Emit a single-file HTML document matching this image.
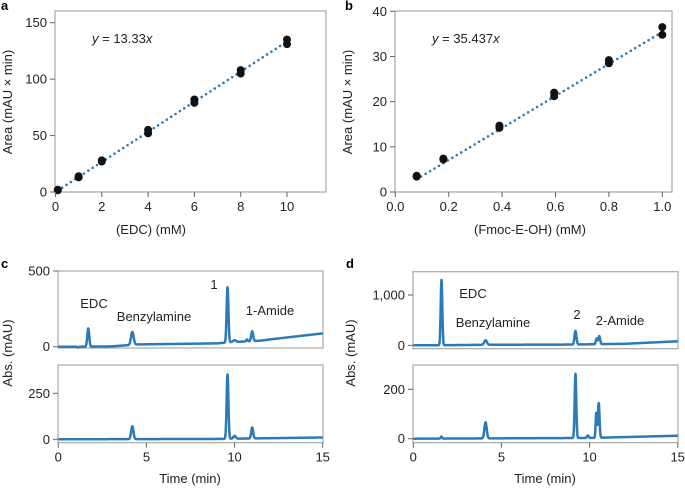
<!DOCTYPE html>
<html><head><meta charset="utf-8"><style>
html,body{margin:0;padding:0;background:#fff}
svg{display:block;font-family:"Liberation Sans",Arial,sans-serif}
</style></head><body>
<svg id="fig" width="685" height="488" viewBox="0 0 685 488"></svg>
<script>
// ---- data ----
const aX = [0.1,0.1,1,1,2,2,4,4,6,6,8,8,10,10];
const aY = [2,1.5,14,13,28,27,55,52,82,79,108,105,135,131];
const aSlope = 13.33;
const aXTicks = [0,2,4,6,8,10];
const aYTicks = [0,50,100,150];
const bX = [0.08,0.08,0.18,0.18,0.39,0.39,0.595,0.595,0.8,0.8,1.0,1.0];
const bY = [3.6,3.4,7.4,7.2,14.7,14.2,22,21.2,29.2,28.5,36.5,34.8];
const bSlope = 35.437;
const bXTicks = [0,0.2,0.4,0.6,0.8,1.0];
const bYTicks = [0,10,20,30,40];
const timeTicks = [0,5,10,15];
// chromatogram peaks: [time, height, width]
const c1Peaks = [[1.7,120,0.055],[4.2,85,0.075],[9.6,365,0.05],[10.0,12,0.08],[10.7,12,0.04],[11.0,65,0.055]];
const c1Base = [[0,0],[1,0],[1.1,-5],[1.2,0],[3,2],[4.5,15],[9,22],[9.8,30],[11.5,40],[12,48],[15,88]];
const c2Peaks = [[4.2,70,0.065],[9.6,350,0.05],[10.0,15,0.07],[11.0,60,0.055]];
const c2Base = [[0,0],[9,2],[15,10]];
const d1Peaks = [[1.6,1300,0.045],[4.1,90,0.075],[9.2,270,0.055],[10.4,110,0.045],[10.55,160,0.05]];
const d1Base = [[0,0],[1.2,0],[4,10],[9,15],[12,30],[15,80]];
const d2Peaks = [[1.6,8,0.04],[4.1,65,0.065],[9.2,260,0.045],[9.9,10,0.05],[10.38,100,0.035],[10.52,140,0.045]];
const d2Base = [[0,0],[10,3],[15,12]];

const NS="http://www.w3.org/2000/svg";
const svg=document.getElementById('fig');
function el(tag,attrs,parent,txt){const e=document.createElementNS(NS,tag);for(const k in attrs)e.setAttribute(k,attrs[k]);if(txt!==undefined)e.textContent=txt;(parent||svg).appendChild(e);return e;}
function lin(d0,d1,r0,r1){return v=>r0+(v-d0)*(r1-r0)/(d1-d0);}
const GRAY="#a8a8a8", BLUE="#2b7bba", TXT="#222", FS=13;

function frame(x0,y0,x1,y1,name){
  const r=el('rect',{x:x0,y:y0,width:x1-x0,height:y1-y0,fill:'none',stroke:GRAY,'stroke-width':1.2});
  
  
}
function yTicks(ticks,sy,x0,fmt,name){
  const g=el('g',{});
  
  
  ticks.forEach(t=>{const y=sy(t);
    el('line',{x1:x0-5,x2:x0,y1:y,y2:y,stroke:'#666','stroke-width':1},g);
    el('text',{x:x0-8,y:y+4.5,'text-anchor':'end','font-size':FS,fill:TXT},g,fmt(t));});
}
function xTicks(ticks,sx,y0,fmt,name){
  const g=el('g',{});
  
  
  ticks.forEach(t=>{const x=sx(t);
    el('line',{x1:x,x2:x,y1:y0,y2:y0+5,stroke:'#666','stroke-width':1},g);
    el('text',{x:x,y:y0+19,'text-anchor':'middle','font-size':FS,fill:TXT},g,fmt(t));});
}
function label(x,y,txt,name,opts){
  const t=el('text',Object.assign({x:x,y:y,'font-size':FS,fill:TXT,'text-anchor':'middle'},opts||{}),svg,txt);
  
  
  return t;
}
function panelLetter(x,y,t,name){label(x,y,t,name,{'font-weight':'bold','font-size':13,'text-anchor':'start',fill:'#000'});}

// ---- panel a ----
{
  const sx=lin(0,10,55.5,287), sy=lin(0,150,192,22.7);
  frame(55,11,326,192,'panel-a-frame');
  const xr=[0.1,10];
  const fl=el('line',{x1:sx(xr[0]),y1:sy(aSlope*xr[0]),x2:sx(xr[1]),y2:sy(aSlope*xr[1]),stroke:BLUE,'stroke-width':2.6,'stroke-dasharray':'0 5.2','stroke-linecap':'round'});
  
  
  aX.forEach((x,i)=>{const c=el('circle',{cx:sx(x),cy:sy(aY[i]),r:4,fill:'#111'});
    
    });
  yTicks(aYTicks,sy,55,t=>t,'y-axis-a');
  xTicks(aXTicks,sx,192,t=>t,'x-axis-a');
  label(151,234,'(EDC) (mM)','x-axis-title-a');
  label(12,102,'Area (mAU × min)','y-axis-title-a',{transform:'rotate(-90 12 102)'});
  const eq=label(92,43,'','equation-a',{'text-anchor':'start'});
  el('tspan',{'font-style':'italic'},eq,'y');el('tspan',{},eq,' = 13.33');el('tspan',{'font-style':'italic'},eq,'x');
  panelLetter(1,10,'a','panel-label-a');
}
// ---- panel b ----
{
  const sx=lin(0,1,395.3,662.3), sy=lin(0,40,192,11.3);
  frame(395,11,672,192,'panel-b-frame');
  const xr=[0.08,1.0];
  const fl=el('line',{x1:sx(xr[0]),y1:sy(bSlope*xr[0]),x2:sx(xr[1]),y2:sy(bSlope*xr[1]),stroke:BLUE,'stroke-width':2.6,'stroke-dasharray':'0 5.2','stroke-linecap':'round'});
  
  
  bX.forEach((x,i)=>{const c=el('circle',{cx:sx(x),cy:sy(bY[i]),r:4,fill:'#111'});
    
    });
  yTicks(bYTicks,sy,395,t=>t,'y-axis-b');
  xTicks(bXTicks,sx,192,t=>t.toFixed(1),'x-axis-b');
  label(530,234,'(Fmoc-E-OH) (mM)','x-axis-title-b');
  label(352,102,'Area (mAU × min)','y-axis-title-b',{transform:'rotate(-90 352 102)'});
  const eq=label(432,43,'','equation-b',{'text-anchor':'start'});
  el('tspan',{'font-style':'italic'},eq,'y');el('tspan',{},eq,' = 35.437');el('tspan',{'font-style':'italic'},eq,'x');
  panelLetter(345,10,'b','panel-label-b');
}
// ---- chromatograms ----
function baseAt(base,t){for(let i=1;i<base.length;i++){if(t<=base[i][0]){const a=base[i-1],b=base[i];return a[1]+(b[1]-a[1])*(t-a[0])/(b[0]-a[0]);}}return base[base.length-1][1];}
function trace(peaks,base,sx,sy,name){
  let d='';
  for(let i=0;i<=1500;i++){const t=i*0.01;let v=baseAt(base,t);
    peaks.forEach(p=>{v+=p[1]*Math.exp(-Math.pow((t-p[0])/p[2],2)/2);});
    d+=(i?'L':'M')+sx(t).toFixed(2)+','+sy(v).toFixed(2);}
  const p=el('path',{d:d,fill:'none',stroke:BLUE,'stroke-width':2.5,'stroke-linejoin':'round'});
  
  
}
// panel c
{
  const sx=lin(0,15,58.3,322.7);
  const sy1=lin(0,500,346.7,271), sy2=lin(0,250,439.3,393.3);
  frame(58,271,323,348,'panel-c-top-frame');
  frame(58,365,323,442.7,'panel-c-bottom-frame');
  trace(c1Peaks,c1Base,sx,sy1,'trace-c-top');
  trace(c2Peaks,c2Base,sx,sy2,'trace-c-bottom');
  yTicks([0,500],sy1,58,t=>t,'y-axis-c-top');
  yTicks([0,250],sy2,58,t=>t,'y-axis-c-bottom');
  xTicks(timeTicks,sx,442.7,t=>t,'x-axis-c');
  label(190,483,'Time (min)','x-axis-title-c');
  label(12,353,'Abs. (mAU)','y-axis-title-c',{transform:'rotate(-90 12 353)'});
  label(94,308,'EDC','peak-label-edc-c');
  label(154,321,'Benzylamine','peak-label-benzylamine-c');
  label(214,289,'1','peak-label-1');
  label(270,315,'1-Amide','peak-label-1-amide');
  panelLetter(1,268,'c','panel-label-c');
}
// panel d
{
  const sx=lin(0,15,413.3,677.7);
  const sy1=lin(0,1000,345.3,295), sy2=lin(0,200,438.7,389.3);
  frame(413,271.7,678,348.7,'panel-d-top-frame');
  frame(413,365,678,442.7,'panel-d-bottom-frame');
  trace(d1Peaks,d1Base,sx,sy1,'trace-d-top');
  trace(d2Peaks,d2Base,sx,sy2,'trace-d-bottom');
  yTicks([0,1000],sy1,413,t=>t.toLocaleString('en-US'),'y-axis-d-top');
  yTicks([0,200],sy2,413,t=>t,'y-axis-d-bottom');
  xTicks(timeTicks,sx,442.7,t=>t,'x-axis-d');
  label(545,483,'Time (min)','x-axis-title-d');
  label(355,353,'Abs. (mAU)','y-axis-title-d',{transform:'rotate(-90 355 353)'});
  label(473,298,'EDC','peak-label-edc-d');
  label(493,327,'Benzylamine','peak-label-benzylamine-d');
  label(577,319,'2','peak-label-2');
  label(620,325,'2-Amide','peak-label-2-amide');
  panelLetter(346,268,'d','panel-label-d');
}
</script>
</body></html>
